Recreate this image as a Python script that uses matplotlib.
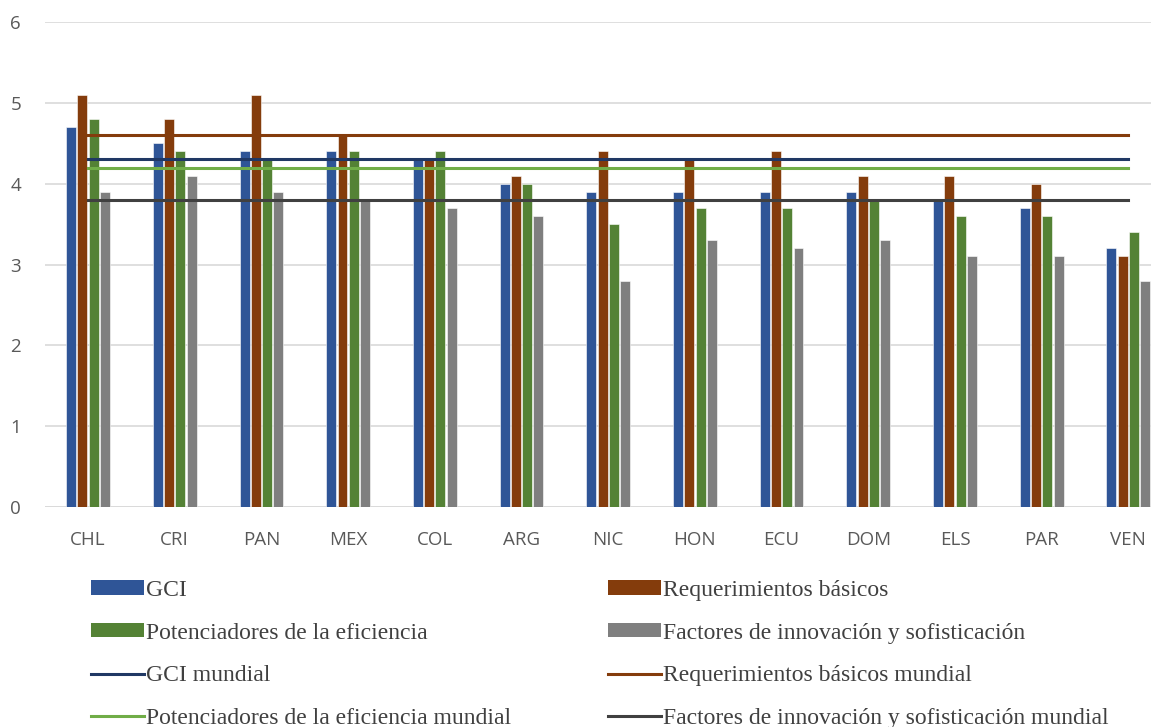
import numpy as np
import matplotlib
matplotlib.use("Agg")
import matplotlib.pyplot as plt
from matplotlib.patches import Patch
from matplotlib.lines import Line2D

countries = ["CHL", "CRI", "PAN", "MEX", "COL", "ARG", "NIC", "HON", "ECU", "DOM", "ELS", "PAR", "VEN"]
gci = [4.7, 4.5, 4.4, 4.4, 4.3, 4.0, 3.9, 3.9, 3.9, 3.9, 3.8, 3.7, 3.2]
req = [5.1, 4.8, 5.1, 4.6, 4.3, 4.1, 4.4, 4.3, 4.4, 4.1, 4.1, 4.0, 3.1]
pot = [4.8, 4.4, 4.3, 4.4, 4.4, 4.0, 3.5, 3.7, 3.7, 3.8, 3.6, 3.6, 3.4]
fac = [3.9, 4.1, 3.9, 3.8, 3.7, 3.6, 2.8, 3.3, 3.2, 3.3, 3.1, 3.1, 2.8]

gci_world = 4.3
req_world = 4.6
pot_world = 4.2
fac_world = 3.8

bar_names = ["GCI", "Requerimientos básicos", "Potenciadores de la eficiencia",
             "Factores de innovación y sofisticación"]
line_names = ["GCI mundial", "Requerimientos básicos mundial",
              "Potenciadores de la eficiencia mundial",
              "Factores de innovación y sofisticación mundial"]

bar_colors = ["#2F5597", "#843C0C", "#548235", "#7F7F7F"]
line_colors = ["#203864", "#843C0C", "#70AD47", "#404040"]

fig = plt.figure(figsize=(11.51, 7.27), dpi=100)
ax = fig.add_axes([44.7 / 1151, (727 - 507) / 727, 1127 / 1151, 485 / 727])

x = np.arange(len(countries))
width = 0.115
step = 0.13
for j, vals in enumerate([gci, req, pot, fac]):
    ax.bar(x + (j - 1.5) * step, vals, width, color=bar_colors[j],
           edgecolor="white", linewidth=0.4, zorder=2)

for val, c in zip([gci_world, req_world, pot_world, fac_world], line_colors):
    ax.plot(x, [val] * len(x), color=c, linewidth=2.2, zorder=3)

ax.set_xlim(-0.5, len(countries) - 0.5)
ax.set_ylim(0, 6)
ax.set_yticks(range(0, 7))
ax.set_xticks(x)
ax.set_xticklabels(countries)
ax.grid(True, axis="y", color="#D9D9D9", linewidth=1.2, zorder=0)
ax.set_axisbelow(True)
for s in ax.spines.values():
    s.set_visible(False)
ax.axhline(0, color="#D9D9D9", linewidth=1.2, zorder=1)
ax.tick_params(axis="both", length=0, labelsize=13.5, labelcolor="#595959")
ax.tick_params(axis="x", pad=17)
ax.tick_params(axis="y", pad=17)
for lbl in ax.get_xticklabels() + ax.get_yticklabels():
    lbl.set_fontfamily("Open Sans")

bar_handles = [Patch(facecolor=c) for c in bar_colors]
line_handles = [Line2D([], [], color=c, linewidth=2.2) for c in line_colors]

left_h = [bar_handles[0], bar_handles[2], line_handles[0], line_handles[2]]
left_l = [bar_names[0], bar_names[2], line_names[0], line_names[2]]
right_h = [bar_handles[1], bar_handles[3], line_handles[1], line_handles[3]]
right_l = [bar_names[1], bar_names[3], line_names[1], line_names[3]]

legend_kw = dict(frameon=False, prop={"family": "Liberation Serif", "size": 17},
                 handlelength=2.25, handleheight=0.55, handletextpad=0.08,
                 labelspacing=0.92, borderpad=0, labelcolor="#404040",
                 loc="upper left")
fig.legend(left_h, left_l, bbox_to_anchor=(79 / 1151, 1 - 568 / 727), **legend_kw)
fig.legend(right_h, right_l, bbox_to_anchor=(596 / 1151, 1 - 568 / 727), **legend_kw)

fig.savefig("out.png", dpi=100)
